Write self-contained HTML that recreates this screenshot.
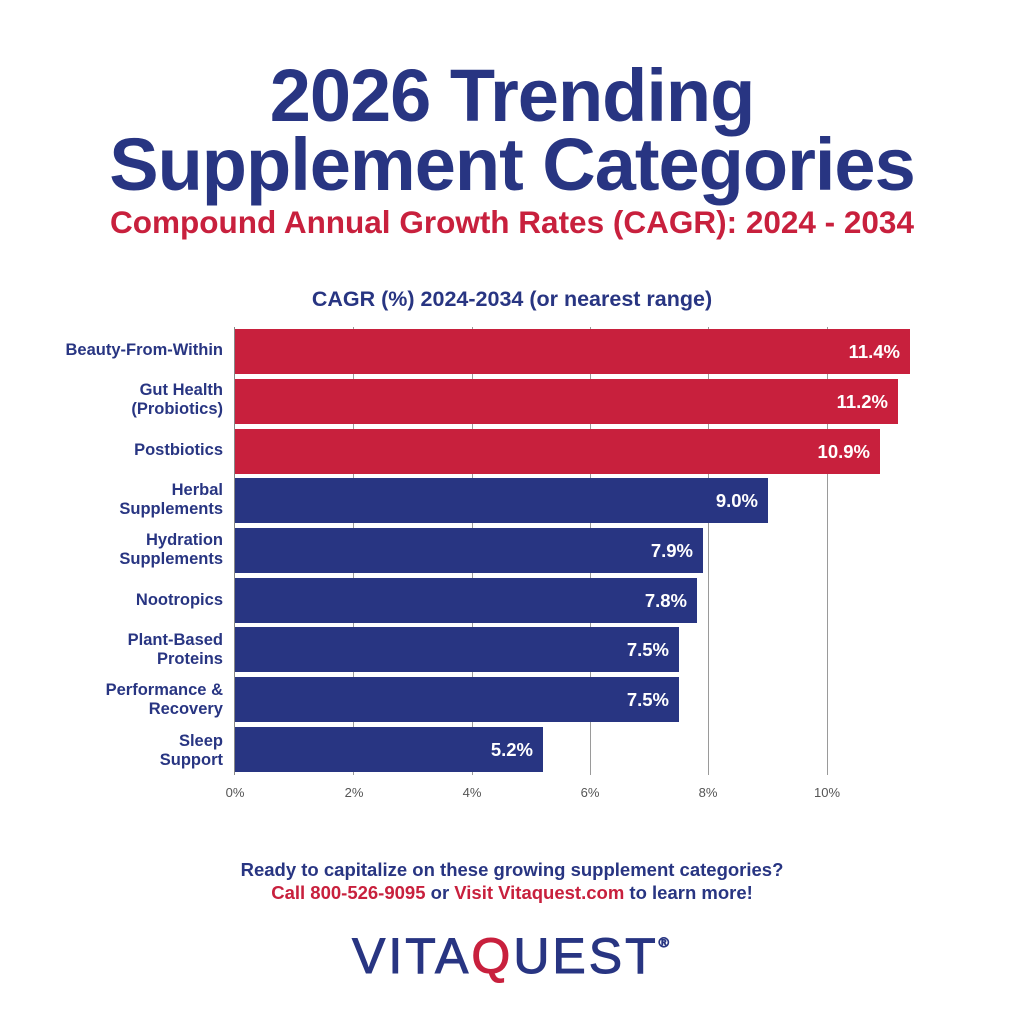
<!DOCTYPE html>
<html><head><meta charset="utf-8"><style>
body{margin:0;width:1024px;height:1024px;background:#fff;position:relative;overflow:hidden;font-family:"Liberation Sans",sans-serif}
.a{position:absolute;white-space:nowrap}
.t{left:0;width:1024px;text-align:center;color:#283582;font-weight:bold}
.lab{position:absolute;right:801px;text-align:right;color:#283582;font-weight:bold;font-size:16.5px;line-height:19px}
.bar{position:absolute;left:235px;height:45px}
.val{position:absolute;right:10px;top:0;line-height:45px;color:#fff;font-weight:bold;font-size:18.5px}
.grid{position:absolute;top:327px;height:448px;width:1px;background:#9a9a9a}
.tick{position:absolute;top:785px;font-size:13px;color:#555;width:40px;text-align:center}
</style></head><body>
<div class="a t" style="top:53px;font-size:74px;line-height:86px;letter-spacing:-1px">2026 Trending</div>
<div class="a t" style="top:122px;font-size:74px;line-height:86px;letter-spacing:-1px">Supplement Categories</div>
<div class="a t" style="top:203px;font-size:31.5px;line-height:38px;color:#c8203d">Compound Annual Growth Rates (CAGR): 2024 - 2034</div>
<div class="a t" style="top:286px;font-size:21.5px;line-height:26px">CAGR (%) 2024-2034 (or nearest range)</div>

<div class="grid" style="left:353px"></div>
<div class="grid" style="left:472px"></div>
<div class="grid" style="left:590px"></div>
<div class="grid" style="left:708px"></div>
<div class="grid" style="left:827px"></div>
<div class="grid" style="left:234px;background:#888"></div>

<div class="bar" style="top:329px;width:675px;background:#c8203d"><span class="val">11.4%</span></div>
<div class="bar" style="top:379px;width:663px;background:#c8203d"><span class="val">11.2%</span></div>
<div class="bar" style="top:429px;width:645px;background:#c8203d"><span class="val">10.9%</span></div>
<div class="bar" style="top:478px;width:533px;background:#283582"><span class="val">9.0%</span></div>
<div class="bar" style="top:528px;width:468px;background:#283582"><span class="val">7.9%</span></div>
<div class="bar" style="top:578px;width:462px;background:#283582"><span class="val">7.8%</span></div>
<div class="bar" style="top:627px;width:444px;background:#283582"><span class="val">7.5%</span></div>
<div class="bar" style="top:677px;width:444px;background:#283582"><span class="val">7.5%</span></div>
<div class="bar" style="top:727px;width:308px;background:#283582"><span class="val">5.2%</span></div>

<div class="lab" style="top:341px">Beauty-From-Within</div>
<div class="lab" style="top:381px">Gut Health<br>(Probiotics)</div>
<div class="lab" style="top:441px">Postbiotics</div>
<div class="lab" style="top:481px">Herbal<br>Supplements</div>
<div class="lab" style="top:531px">Hydration<br>Supplements</div>
<div class="lab" style="top:591px">Nootropics</div>
<div class="lab" style="top:631px">Plant-Based<br>Proteins</div>
<div class="lab" style="top:681px">Performance &amp;<br>Recovery</div>
<div class="lab" style="top:732px">Sleep<br>Support</div>

<div class="tick" style="left:215px">0%</div>
<div class="tick" style="left:334px">2%</div>
<div class="tick" style="left:452px">4%</div>
<div class="tick" style="left:570px">6%</div>
<div class="tick" style="left:688px">8%</div>
<div class="tick" style="left:807px">10%</div>

<div class="a t" style="top:858px;font-size:18.5px;line-height:23px">Ready to capitalize on these growing supplement categories?</div>
<div class="a t" style="top:881px;font-size:18.5px;line-height:23px"><span style="color:#c8203d">Call 800-526-9095</span> or <span style="color:#c8203d">Visit Vitaquest.com</span> to learn more!</div>
<div class="a t" style="top:914px;font-size:50px;line-height:56px;font-weight:normal;letter-spacing:3px;-webkit-text-stroke:1px #283582">VITA<span style="color:#c8203d;-webkit-text-stroke:1px #c8203d">Q</span>UEST<sup style="font-size:14px;vertical-align:26px">®</sup></div>
</body></html>
